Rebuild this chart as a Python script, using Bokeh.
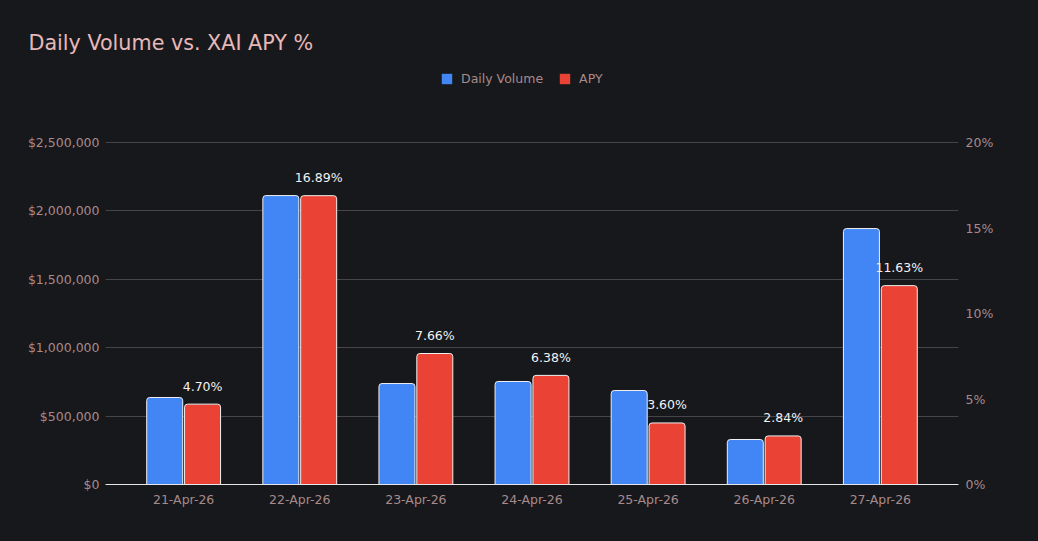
from bokeh.plotting import figure
from bokeh.models import (ColumnDataSource, Range1d, LinearAxis, FixedTicker,
                          NumeralTickFormatter, PrintfTickFormatter, Legend,
                          LegendItem, FactorRange)
from bokeh.transform import dodge
from bokeh.core.properties import value
from bokeh.embed import file_html
from bokeh.resources import INLINE

# ---- data ----
dates = ["21-Apr-26", "22-Apr-26", "23-Apr-26", "24-Apr-26",
         "25-Apr-26", "26-Apr-26", "27-Apr-26"]
daily_volume = [636000, 2112000, 738000, 753000, 687000, 329000, 1871000]
apy = [4.70, 16.89, 7.66, 6.38, 3.60, 2.84, 11.63]
apy_labels = ["4.70%", "16.89%", "7.66%", "6.38%", "3.60%", "2.84%", "11.63%"]
volume_ticks = [0, 500000, 1000000, 1500000, 2000000, 2500000]
apy_ticks = [0, 5, 10, 15, 20]
volume_max = 2500000
apy_max = 20

BG = "#17181c"
BLUE = "#4285f4"
RED = "#ea4335"
TICK_COLOR = "#a88a8a"
FONT = "DejaVu Sans"
FS = "12.5px"

# layout: frame from y=62 to y=484; value axis top (max tick) at y=142
W, H = 1038, 541
TOP, BOTTOM, LEFT, RIGHT = 62, 57, 105, 80
frame_h = H - TOP - BOTTOM
axis_h = 484 - 142
stretch = frame_h / axis_h

src = ColumnDataSource(dict(date=dates, vol=daily_volume, apy=apy, lab=apy_labels))

p = figure(width=W, height=H, output_backend="svg", toolbar_location=None,
           x_range=FactorRange(factors=dates, range_padding=0.0494,
                               range_padding_units="percent"),
           y_range=Range1d(0, volume_max * stretch))
p.min_border_left = LEFT
p.min_border_right = RIGHT
p.min_border_top = TOP
p.min_border_bottom = BOTTOM
p.background_fill_color = BG
p.border_fill_color = BG
p.outline_line_color = None
p.styles = {"background-color": BG}

p.extra_y_ranges = {"apy": Range1d(0, apy_max * stretch)}

off = 0.163
bw = 0.31
p.vbar(x=dodge("date", -off, range=p.x_range), top="vol", width=bw, source=src,
       fill_color=BLUE, line_color="#f0f0f0", line_width=1,
       border_radius=(3, 3, 0, 0))
p.vbar(x=dodge("date", off, range=p.x_range), top="apy", width=bw, source=src,
       y_range_name="apy", fill_color=RED, line_color="#f0f0f0", line_width=1,
       border_radius=(3, 3, 0, 0))

p.text(x=dodge("date", off, range=p.x_range), y="apy", text="lab", source=src,
       y_range_name="apy", text_align="center", text_baseline="middle",
       y_offset=-18, text_color="#f2f2f2", text_font=value(FONT),
       text_font_size=FS)

# axes
p.yaxis.ticker = FixedTicker(ticks=volume_ticks)
p.yaxis.formatter = NumeralTickFormatter(format="$0,0")
right = LinearAxis(y_range_name="apy", ticker=FixedTicker(ticks=apy_ticks),
                   formatter=PrintfTickFormatter(format="%d%%"))
p.add_layout(right, "right")

for ax in [p.yaxis[0], right, p.xaxis[0]]:
    ax.major_tick_line_color = None
    ax.minor_tick_line_color = None
    ax.major_tick_out = 0
    ax.major_tick_in = 0
    ax.minor_tick_out = 0
    ax.minor_tick_in = 0
    ax.major_label_text_color = TICK_COLOR
    ax.major_label_text_font = FONT
    ax.major_label_text_font_size = FS
p.yaxis[0].axis_line_color = None
right.axis_line_color = None
p.yaxis[0].major_label_standoff = 6
right.major_label_standoff = 7

p.xaxis.axis_line_color = "#e6e6e6"
p.xaxis.axis_line_width = 1
p.xaxis.major_label_standoff = 7

p.xgrid.grid_line_color = None
p.ygrid.grid_line_color = "#46464a"
p.ygrid.grid_line_width = 1

# legend (inside the stretched frame, above the value area)
swatch = ColumnDataSource(dict(x=[dates[0]], top=[0]))
r1 = p.vbar(x="x", top="top", width=0.01, source=swatch, fill_color=BLUE, line_color=None)
r2 = p.vbar(x="x", top="top", width=0.01, source=swatch, fill_color=RED, line_color=None)
legend = Legend(items=[LegendItem(label="Daily Volume", renderers=[r1]),
                       LegendItem(label="APY", renderers=[r2])],
                orientation="horizontal", location=(440 - LEFT, 484 - 86),
                glyph_width=13, glyph_height=13, label_height=13,
                label_standoff=8, spacing=15, padding=0, margin=0,
                border_line_color=None, background_fill_alpha=0,
                label_text_color=TICK_COLOR, label_text_font=FONT,
                label_text_font_size=FS)
p.add_layout(legend, "center")

p.title.text = "Daily Volume vs. XAI APY %"
p.title.align = "left"
p.title.vertical_align = "bottom"
p.title.offset = -77
p.title.standoff = 15
p.title.text_font = FONT
p.title.text_font_size = "20.7px"
p.title.text_font_style = "normal"
p.title.text_color = "#e6b8b8"

html = file_html(p, INLINE)
html = html.replace("</head>",
                    "<style>html, body { background-color: #17181c; }</style></head>", 1)
open("out.html", "w").write(html)
